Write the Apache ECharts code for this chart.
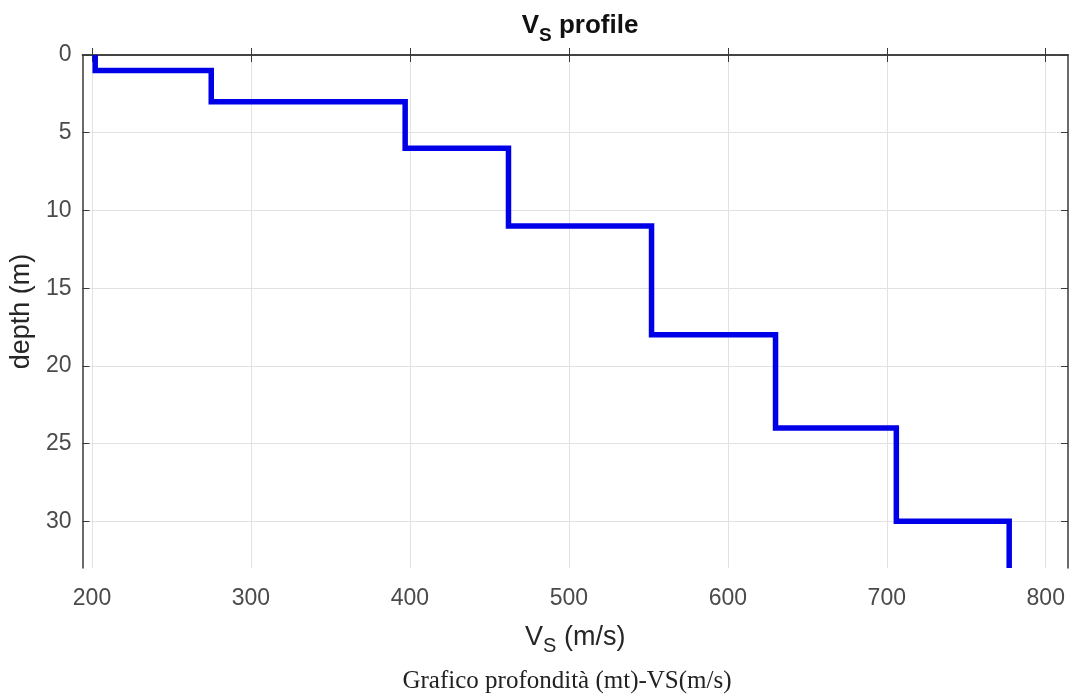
<!DOCTYPE html>
<html>
<head>
<meta charset="utf-8">
<script src="https://cdn.jsdelivr.net/npm/echarts@6/dist/echarts.min.js"></script>
<style>
  html, body { margin: 0; padding: 0; background: #fff; }
  #chart { width: 1073px; height: 697px; }
</style>
</head>
<body>
<div id="chart"></div>
<script>
// shear-wave velocity of each layer (m/s)
var vsValues = [202, 275, 397, 462, 552, 630, 706, 777];
// depth of the top of each layer (m)
var layerTops = [0, 1, 3, 6, 11, 18, 24, 30];
var profileBottom = 33;

var xTicks = [200, 300, 400, 500, 600, 700, 800];
var yTicks = [0, 5, 10, 15, 20, 25, 30];

// step profile: vertical segment through each layer, horizontal jump at each interface
var points = [];
vsValues.forEach(function (vs, i) {
    var top = layerTops[i];
    var bottom = i + 1 < layerTops.length ? layerTops[i + 1] : profileBottom;
    points.push([vs, top]);
    points.push([vs, bottom]);
});

var chart = echarts.init(document.getElementById('chart'));

var labelColor = '#4a4a4a';
var frameColor = '#3a3a3a';
var gridColor = '#e2e2e2';

var subRich = {
    v: { fontFamily: 'Liberation Sans', fontSize: 27, color: '#262626', lineHeight: 32, verticalAlign: 'top' },
    s: { fontFamily: 'Liberation Sans', fontSize: 20, color: '#262626', lineHeight: 32, padding: [11, 0, 0, 0], verticalAlign: 'bottom' }
};

var option = {
    animation: false,
    backgroundColor: '#ffffff',
    title: [{
        text: '{v|V}{s|S}{v| profile}',
        left: 575,
        top: 8,
        textAlign: 'center',
        textStyle: {
            rich: {
                v: { fontFamily: 'Liberation Sans', fontSize: 26, fontWeight: 'bold', color: '#111', lineHeight: 32, verticalAlign: 'top' },
                s: { fontFamily: 'Liberation Sans', fontSize: 19, fontWeight: 'bold', color: '#111', lineHeight: 32, padding: [10, 0, 0, 0], verticalAlign: 'bottom' }
            }
        }
    }, {
        text: 'Grafico profondità (mt)-VS(m/s)',
        left: 562,
        top: 664,
        textAlign: 'center',
        textStyle: { fontFamily: 'Liberation Serif', fontSize: 25, fontWeight: 'normal', color: '#222' }
    }],
    grid: { left: 81, right: 5, top: 55, bottom: 129, containLabel: false },
    xAxis: [{
        type: 'value',
        min: 194,
        max: 814,
        name: '{v|V}{s|S}{v| (m/s)}',
        nameLocation: 'middle',
        nameGap: 56,
        nameTextStyle: { rich: subRich },
        axisLine: { show: true, lineStyle: { color: frameColor, width: 1.5 } },
        axisTick: { show: true, inside: true, length: 7, customValues: xTicks, lineStyle: { color: frameColor } },
        axisLabel: {
            customValues: xTicks, margin: 19,
            fontFamily: 'Liberation Sans', fontSize: 23, color: labelColor
        },
        splitLine: { show: true, lineStyle: { color: gridColor, width: 1 } }
    }, {
        type: 'value',
        position: 'top',
        min: 194,
        max: 814,
        axisLine: { show: true, lineStyle: { color: frameColor, width: 1.5 } },
        axisTick: { show: true, inside: true, length: 7, customValues: xTicks, lineStyle: { color: frameColor } },
        axisLabel: { show: false, customValues: xTicks },
        splitLine: { show: false }
    }],
    yAxis: [{
        type: 'value',
        inverse: true,
        min: 0,
        max: profileBottom,
        name: 'depth (m)',
        nameLocation: 'middle',
        nameGap: 40,
        nameRotate: 90,
        nameTextStyle: { fontFamily: 'Liberation Sans', fontSize: 27, color: '#262626' },
        axisLine: { show: true, lineStyle: { color: frameColor, width: 1.5 } },
        axisTick: { show: true, inside: true, length: 7, customValues: yTicks, lineStyle: { color: frameColor } },
        axisLabel: {
            customValues: yTicks, margin: 11,
            fontFamily: 'Liberation Sans', fontSize: 23, color: labelColor
        },
        splitLine: { show: true, lineStyle: { color: gridColor, width: 1 } }
    }, {
        type: 'value',
        position: 'right',
        inverse: true,
        min: 0,
        max: profileBottom,
        axisLine: { show: true, lineStyle: { color: frameColor, width: 1.5 } },
        axisTick: { show: true, inside: true, length: 7, customValues: yTicks, lineStyle: { color: frameColor } },
        axisLabel: { show: false, customValues: yTicks },
        splitLine: { show: false }
    }],
    series: [{
        type: 'line',
        xAxisIndex: 0,
        yAxisIndex: 0,
        data: points,
        showSymbol: false,
        symbol: 'none',
        clip: true,
        lineStyle: { color: '#0000e8', width: 5.5, join: 'miter' }
    }]
};

chart.setOption(option);
</script>
</body>
</html>
